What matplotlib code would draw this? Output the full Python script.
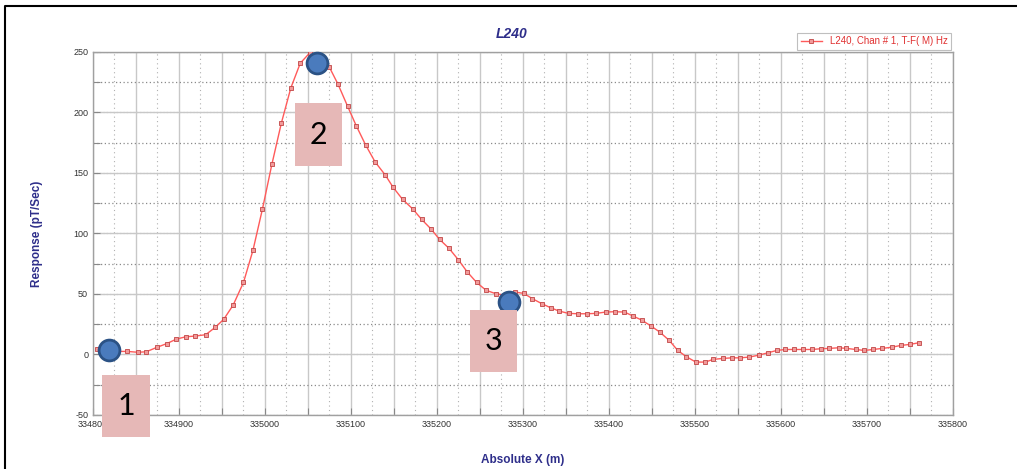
import numpy as np
import matplotlib.pyplot as plt
from matplotlib.patches import Rectangle
from matplotlib.lines import Line2D

# %% data
x_m = [334805, 334816, 334828, 334840, 334852, 334862, 334874, 334886, 334897, 334908,
       334919, 334931, 334942, 334952, 334963, 334975, 334986, 334997, 335008, 335019,
       335030, 335041, 335052, 335063, 335075, 335085, 335096, 335106, 335117, 335128,
       335140, 335149, 335160, 335172, 335182, 335193, 335203, 335214, 335225, 335235,
       335246, 335257, 335269, 335279, 335291, 335301, 335311, 335322, 335332, 335342,
       335353, 335364, 335374, 335385, 335396, 335407, 335418, 335428, 335438, 335449,
       335459, 335470, 335480, 335490, 335501, 335512, 335521, 335532, 335543, 335552,
       335563, 335574, 335585, 335595, 335605, 335615, 335626, 335636, 335646, 335656,
       335667, 335676, 335687, 335697, 335707, 335718, 335729, 335739, 335750, 335760]
response = [4.5, 3.5, 2.5, 2.5, 1.8, 2.2, 5.8, 9.0, 12.7, 14.6,
            15.2, 16.3, 22.3, 29.0, 40.8, 59.5, 86.0, 120.0, 157.0, 191.0,
            220.0, 240.5, 249.0, 245.0, 237.0, 223.0, 205.0, 189.0, 173.0, 159.0,
            148.0, 138.0, 128.0, 120.0, 111.6, 103.6, 95.0, 87.6, 78.0, 68.3,
            59.5, 53.0, 50.0, 49.0, 51.5, 50.4, 46.0, 41.9, 38.6, 35.8,
            33.9, 33.6, 33.6, 33.9, 35.0, 35.3, 35.0, 31.7, 28.4, 23.4,
            18.5, 11.6, 3.3, -1.9, -6.3, -6.3, -4.1, -3.3, -2.8, -2.8,
            -2.2, -0.6, 1.4, 3.3, 4.1, 4.1, 4.1, 4.1, 4.7, 5.0,
            5.5, 5.0, 4.1, 3.3, 4.1, 5.0, 6.0, 7.4, 8.3, 9.6]

# marked stations
mark_x = [334819, 335060, 335284]
mark_y = [3.3, 241, 43]
mark_labels = ['1', '2', '3']

x_ticks = list(range(334800, 335801, 100))
y_ticks = list(range(-50, 251, 50))

W, H = 1017, 469
navy = '#2e2e8a'

def px(x, y):
    # pixel (from top-left) -> figure fraction
    return x / W, 1 - y / H

plt.rcParams['font.family'] = ['Liberation Sans', 'DejaVu Sans']
plt.rcParams['axes.unicode_minus'] = False
fig = plt.figure(figsize=(W / 100, H / 100), dpi=100)
ax = fig.add_axes([93 / W, 1 - 415 / H, 860 / W, 363.3 / H])

ax.plot(x_m, response, color='#ff5a5a', lw=1.0, marker='s', ms=3.3,
        mfc='#f29a9a', mec='#c04545', mew=0.6, label='L240, Chan # 1, T-F( M) Hz', zorder=3)

ax.set_xlim(334800, 335800)
ax.set_ylim(-50, 250)
ax.set_xticks(x_ticks)
ax.set_yticks(y_ticks)
ax.set_xticks(range(334850, 335800, 100), minor=True)
ax.set_yticks(range(-25, 250, 50), minor=True)
ax.tick_params(which='both', direction='in', labelsize=6.5, labelcolor='#333333',
               color='#888888', length=5, width=0.8)
ax.grid(which='major', axis='x', color='#c8c8c8', lw=1.0)
ax.grid(which='minor', axis='x', color='#c8c8c8', lw=1.0)
ax.grid(which='major', axis='y', color='#c8c8c8', lw=1.0)
ax.grid(which='minor', axis='y', color='#8a8a8a', lw=0.9, ls=(0, (1, 2)))
# dotted in-between lines
for xv in range(334825, 335800, 50):
    ax.axvline(xv, color='#b0b0b0', lw=0.8, ls=(0, (1, 3)), zorder=0.5)
for yv in range(-50, 251, 50):
    ax.axhline(yv, color='#8a8a8a', lw=0.8, ls=(0, (1, 2)), zorder=0.5)
for s in ax.spines.values():
    s.set_color('#a0a0a0')
    s.set_linewidth(1.0)

ax.set_title('L240', fontsize=10, fontstyle='italic', fontweight='bold', color=navy,
             pad=10, x=0.487)
ax.set_xlabel('Absolute X (m)', fontsize=8.5, fontweight='bold', color=navy, labelpad=18)
ax.set_ylabel('Response (pT/Sec)', fontsize=8.5, fontweight='bold', color=navy, labelpad=22)

leg = ax.legend(loc='lower right', bbox_to_anchor=(1.0, 1.0), fontsize=7,
                frameon=True, fancybox=False, borderaxespad=0.2, borderpad=0.35,
                handlelength=2.2, labelcolor='#e03030')
leg.get_frame().set_edgecolor('#b0b0b0')
leg.get_frame().set_linewidth(0.8)

# blue markers on the stations
ax.plot(mark_x, mark_y, 'o', ms=15, mfc='#4a7bbd', mec='#2b5285', mew=2.0,
        ls='none', zorder=5, clip_on=False)

# pink number boxes (figure pixels)
boxes = [(102, 375, 48, 62), (295, 103, 47, 63), (470, 310, 47, 62)]
for (bx, by, bw, bh), lab in zip(boxes, mark_labels):
    x0, y1 = px(bx, by + bh)
    fig.patches.append(Rectangle((x0, y1), bw / W, bh / H, transform=fig.transFigure,
                                 facecolor='#e6b8b7', edgecolor='none', zorder=4))
    tx, ty = px(bx + bw / 2, by + bh / 2)
    fig.text(tx, ty, lab, ha='center', va='center', fontsize=22, color='black',
             family=['Lato', 'DejaVu Sans'], zorder=6)

# outer frame (left and top visible)
fig.lines.append(Line2D([5 / W, 5 / W, 1.0], [0.0, 1 - 6 / H, 1 - 6 / H],
                        transform=fig.transFigure, color='black', lw=1.5))

fig.savefig('out.png', dpi=100)
